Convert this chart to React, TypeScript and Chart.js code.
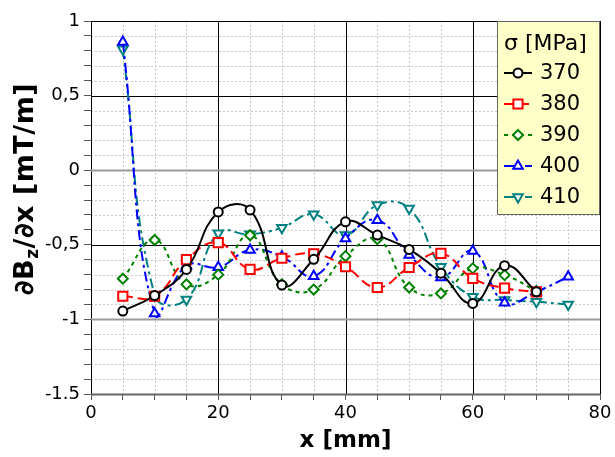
import React, { useEffect, useRef } from "react";
import { Chart, registerables } from "chart.js";

Chart.register(...registerables);

// ---- data ----
const xPositions = [5, 10, 15, 20, 25, 30, 35, 40, 45, 50, 55, 60, 65, 70, 75];
const sigma370 = [-0.944, -0.84, -0.665, -0.28, -0.266, -0.77, -0.597, -0.346, -0.435, -0.531, -0.69, -0.893, -0.64, -0.815];
const sigma380 = [-0.845, -0.845, -0.6, -0.485, -0.665, -0.59, -0.56, -0.647, -0.786, -0.652, -0.558, -0.725, -0.79, -0.815];
const sigma390 = [-0.727, -0.468, -0.765, -0.7, -0.436, -0.765, -0.8, -0.576, -0.462, -0.786, -0.826, -0.658, -0.703, -0.81];
const sigma400 = [0.86, -0.96, -0.64, -0.65, -0.535, -0.58, -0.71, -0.458, -0.335, -0.569, -0.719, -0.542, -0.888, -0.815, -0.714];
const sigma410 = [0.81, -0.84, -0.866, -0.423, -0.43, -0.385, -0.295, -0.435, -0.234, -0.257, -0.647, -0.848, -0.87, -0.882, -0.9];

const seriesLabels = ["370", "380", "390", "400", "410"];
const seriesValues = [sigma370, sigma380, sigma390, sigma400, sigma410];
const legendTitle = "σ [MPa]";
const xTitle = "x [mm]";
const yTickLabels: Record<string, string> = { "10": "1", "5": "0,5", "0": "0", "-5": "-0,5", "-10": "-1", "-15": "-1.5" };
const xTickLabels = [0, 20, 40, 60, 80];

// ---- styles ----
const styles = [
  { color: "#000000", dash: [] as number[], point: "circle", radius: 4.5, rotation: 0 },
  { color: "#ff0000", dash: [10, 5], point: "rect", radius: 6.5, rotation: 0 },
  { color: "#008000", dash: [4, 4], point: "rectRot", radius: 5, rotation: 0 },
  { color: "#0000ff", dash: [10, 4, 3, 4], point: "triangle", radius: 5.5, rotation: 0 },
  { color: "#008080", dash: [10, 4, 3, 4], point: "triangle", radius: 5.5, rotation: 180 },
];

const FONT = '"DejaVu Sans", Verdana, sans-serif';

function drawMarker(ctx: CanvasRenderingContext2D, kind: string, r: number, rot: number, x: number, y: number) {
  ctx.save();
  ctx.translate(x, y);
  ctx.rotate((rot * Math.PI) / 180);
  ctx.beginPath();
  if (kind === "circle") {
    ctx.arc(0, 0, r, 0, Math.PI * 2);
  } else if (kind === "rect") {
    const s = Math.SQRT1_2 * r;
    ctx.rect(-s, -s, 2 * s, 2 * s);
  } else if (kind === "rectRot") {
    ctx.moveTo(0, -r);
    ctx.lineTo(r, 0);
    ctx.lineTo(0, r);
    ctx.lineTo(-r, 0);
    ctx.closePath();
  } else {
    const h = (r * 3) / Math.sqrt(3) / 2;
    ctx.moveTo(0, -r);
    ctx.lineTo(h, r / 2);
    ctx.lineTo(-h, r / 2);
    ctx.closePath();
  }
  ctx.fillStyle = "#ffffff";
  ctx.fill();
  ctx.stroke();
  ctx.restore();
}

const gridPlugin = {
  id: "customGrid",
  beforeDatasetsDraw(chart: any) {
    const { ctx, chartArea } = chart;
    const { left, right, top, bottom } = chartArea;
    const xs = chart.scales.x;
    const ys = chart.scales.y;
    const hline = (v: number) => {
      const py = Math.round(ys.getPixelForValue(v)) + 0.5;
      ctx.beginPath();
      ctx.moveTo(left, py);
      ctx.lineTo(right, py);
      ctx.stroke();
    };
    const vline = (v: number) => {
      const px = Math.round(xs.getPixelForValue(v)) + 0.5;
      ctx.beginPath();
      ctx.moveTo(px, top);
      ctx.lineTo(px, bottom);
      ctx.stroke();
    };
    ctx.save();
    ctx.lineWidth = 1;
    ctx.strokeStyle = "#c8c8c8";
    ctx.setLineDash([2, 2]);
    for (let k = 1; k < 16; k++) {
      if (k % 4 !== 0) vline(k * 5);
    }
    for (let k = -14; k < 10; k++) {
      if (k % 5 !== 0) hline(k / 10);
    }
    ctx.setLineDash([]);
    ctx.strokeStyle = "#000000";
    ctx.lineWidth = 1;
    for (const v of xTickLabels) vline(v);
    hline(1);
    hline(0.5);
    hline(-0.5);
    ctx.strokeStyle = "#9a9a9a";
    ctx.lineWidth = 2;
    hline(0);
    hline(-1);
    ctx.strokeStyle = "#666666";
    hline(-1.5);
    ctx.restore();
  },
  afterDraw(chart: any) {
    const { ctx, chartArea } = chart;
    const { left, right, top } = chartArea;
    ctx.save();
    // x title
    ctx.fillStyle = "#000";
    ctx.font = `bold 23px ${FONT}`;
    ctx.textAlign = "center";
    ctx.textBaseline = "middle";
    ctx.fillText(xTitle, (left + right) / 2, 441);

    // y title with subscript
    ctx.save();
    ctx.translate(23, 189);
    ctx.rotate(-Math.PI / 2);
    (ctx as any).letterSpacing = "0.5px";
    ctx.textBaseline = "alphabetic";
    const big = `bold 27px ${FONT}`;
    const small = `bold 17px ${FONT}`;
    const parts: [string, string, number][] = [
      ["∂B", big, 0],
      ["z", small, 5],
      ["/∂x [mT/m]", big, 0],
    ];
    let total = 0;
    for (const p of parts) {
      ctx.font = p[1];
      total += ctx.measureText(p[0]).width;
    }
    let cx = -total / 2;
    ctx.textAlign = "left";
    for (const p of parts) {
      ctx.font = p[1];
      ctx.fillText(p[0], cx, 10 + p[2]);
      cx += ctx.measureText(p[0]).width;
    }
    ctx.restore();

    // legend
    const lx0 = 497;
    const ly0 = top;
    const lx1 = right;
    const ly1 = 214;
    ctx.fillStyle = "#ffffc8";
    ctx.fillRect(lx0, ly0, lx1 - lx0, ly1 - ly0);
    ctx.strokeStyle = "#666";
    ctx.lineWidth = 1;
    ctx.strokeRect(lx0 + 0.5, ly0 + 0.5, lx1 - lx0 - 1, ly1 - ly0);
    ctx.fillStyle = "#000";
    ctx.font = `22px ${FONT}`;
    ctx.textAlign = "left";
    ctx.textBaseline = "middle";
    ctx.fillText(legendTitle, 504, 44);
    chart.data.datasets.forEach((ds: any, i: number) => {
      const st = styles[i];
      const cy = 73 + i * 31;
      ctx.strokeStyle = st.color;
      ctx.lineWidth = 2;
      ctx.setLineDash(st.dash);
      ctx.beginPath();
      ctx.moveTo(504, cy);
      ctx.lineTo(532, cy);
      ctx.stroke();
      ctx.setLineDash([]);
      drawMarker(ctx, st.point, st.radius, st.rotation, 518, cy);
      ctx.fillStyle = "#000";
      ctx.font = `21px ${FONT}`;
      ctx.fillText(ds.label, 540, cy + 1);
    });
    ctx.restore();
  },
};

export default function App() {
  const canvasRef = useRef<HTMLCanvasElement | null>(null);

  useEffect(() => {
    if (!canvasRef.current) return;
    const datasets = seriesLabels.map((label, i) => {
      const st = styles[i];
      return {
        label,
        data: seriesValues[i].map((v, j) => ({ x: xPositions[j], y: v })),
        borderColor: st.color,
        backgroundColor: "#ffffff",
        borderWidth: 2,
        borderDash: st.dash,
        pointStyle: st.point,
        pointRadius: st.radius,
        pointRotation: st.rotation,
        pointBorderWidth: 2,
        pointBorderColor: st.color,
        pointBackgroundColor: "#ffffff",
        tension: 0.45,
        fill: false,
      };
    });
    const chart = new Chart(canvasRef.current, {
      type: "line",
      data: { datasets } as any,
      options: {
        animation: false,
        responsive: false,
        devicePixelRatio: 1,
        layout: { padding: { left: 0, top: 21, right: 15, bottom: 0 } },
        plugins: { legend: { display: false }, tooltip: { enabled: false } },
        scales: {
          x: {
            type: "linear",
            min: 0,
            max: 80,
            grid: { drawOnChartArea: false, drawTicks: true, tickLength: 6, tickColor: "#555", color: "#555" },
            border: { display: false },
            ticks: {
              stepSize: 5,
              autoSkip: false,
              maxRotation: 0,
              padding: 3,
              color: "#000",
              font: { family: FONT, size: 18 },
              callback: (v: any) => (Math.round(v) % 20 === 0 ? String(Math.round(v)) : ""),
            },
            afterFit: (s: any) => {
              s.height = 457 - 394;
            },
          },
          y: {
            type: "linear",
            min: -1.5,
            max: 1,
            grid: { drawOnChartArea: false, drawTicks: true, tickLength: 7, tickColor: "#555", color: "#555" },
            border: { display: false },
            ticks: {
              stepSize: 0.1,
              autoSkip: false,
              padding: 4,
              color: "#000",
              font: { family: FONT, size: 18 },
              callback: (v: any) => {
                const k = Math.round(v * 10);
                return yTickLabels[String(k)] ?? "";
              },
            },
            afterFit: (s: any) => {
              s.width = 91;
            },
          },
        },
      } as any,
      plugins: [gridPlugin],
    });
    return () => chart.destroy();
  }, []);

  return (
    <div style={{ position: "fixed", left: 0, top: 0, width: 615, height: 457, background: "#fff" }}>
      <canvas ref={canvasRef} width={615} height={457} style={{ display: "block" }} />
    </div>
  );
}
